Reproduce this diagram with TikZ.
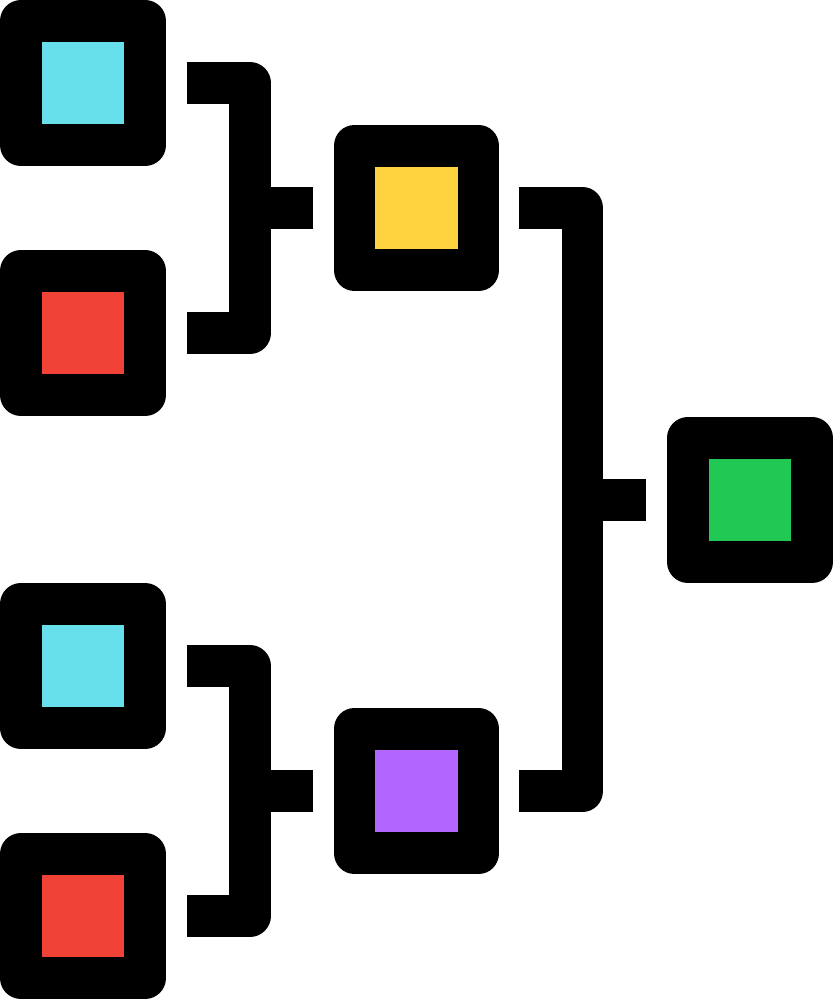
\documentclass[tikz,border=0pt]{standalone}
\definecolor{cyanbox}{HTML}{68E0EC}
\definecolor{redbox}{HTML}{F04236}
\definecolor{yellowbox}{HTML}{FFD23F}
\definecolor{greenbox}{HTML}{21C954}
\definecolor{purplebox}{HTML}{B266FF}
\tikzset{
  box/.style={draw=black,line width=41.67pt,line join=round,minimum size=124.3pt,inner sep=0pt,fill=#1},
  bracket/.style={draw=black,line width=41.67pt,line join=round,line cap=butt}
}
\begin{document}
\begin{tikzpicture}[x=1pt,y=-1pt]
\useasboundingbox (0,0) rectangle (833,1000);
% first round
\node[box=cyanbox] (c1) at (83,83) {};
\node[box=redbox] (r1) at (83,333) {};
\node[box=cyanbox] (c2) at (83,666) {};
\node[box=redbox] (r2) at (83,916) {};
% semi final and final
\node[box=yellowbox] (semi1) at (416.5,208) {};
\node[box=purplebox] (semi2) at (416.5,791) {};
\node[box=greenbox] (final) at (750,500) {};
% brackets
\draw[bracket] ([xshift=21pt]c1.east) -- ++(63,0) |- ([xshift=21pt]r1.east);
\draw[bracket] ([xshift=-21pt]semi1.west) -- ++(-62,0);
\draw[bracket] ([xshift=21pt]c2.east) -- ++(63,0) |- ([xshift=21pt]r2.east);
\draw[bracket] ([xshift=-21pt]semi2.west) -- ++(-62,0);
\draw[bracket] ([xshift=20pt]semi1.east) -- ++(63,0) |- ([xshift=20pt]semi2.east);
\draw[bracket] ([xshift=-21pt]final.west) -- ++(-63,0);
\end{tikzpicture}
\end{document}
